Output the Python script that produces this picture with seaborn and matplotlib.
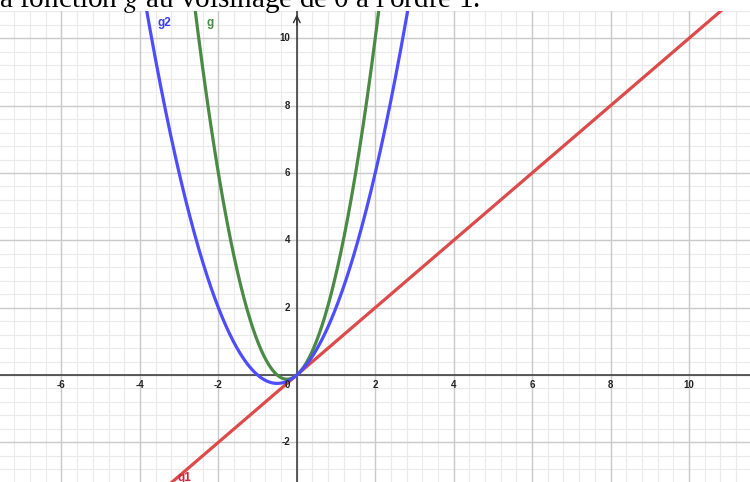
import numpy as np
import pandas as pd
import matplotlib
matplotlib.use("Agg")
import matplotlib.pyplot as plt
import seaborn as sns

# polynomial coefficients (highest degree first)
g_coeffs = [2.0, 1.0, 0.0]     # green curve g
g2_coeffs = [1.0, 1.0, 0.0]    # blue curve g2
g1_coeffs = [1.0, 0.0]         # red tangent g1
curve_names = ["g", "g2", "g1"]
curve_colors = ["#4a8a44", "#4d4dff", "#dc4a4a"]
label_colors = ["#4a8a44", "#3a3aff", "#d0243a"]

x_ticks = [-6, -4, -2, 2, 4, 6, 8, 10]
y_ticks = [-2, 2, 4, 6, 8, 10]

title_text = "la fonction $g$ au voisinage de 0 à l'ordre 1."

sns.set_theme(style="white")
plt.rcParams['font.family'] = ['Liberation Sans', 'DejaVu Sans']
plt.rcParams['mathtext.fontset'] = 'stix'

W, H = 750, 482
fig = plt.figure(figsize=(7.5, 4.82), dpi=100)
top_px = 11
ax = fig.add_axes([0, 0, 1, (H - top_px) / H])

# pixel geometry of the GeoGebra view
x0_px, sx = 296.8, 39.22
y0_px, sy = 375.0, 33.67
xmin, xmax = -x0_px / sx, (W - x0_px) / sx
ymin, ymax = -(H - y0_px) / sy, (y0_px - top_px) / sy
ax.set_xlim(xmin, xmax)
ax.set_ylim(ymin, ymax)

# grid: minor every 0.4, major every 2
for v in np.arange(-8, 12.01, 0.4):
    ax.axvline(v, color="#eaeaea", lw=0.8, zorder=0)
for v in np.arange(-4, 12.01, 0.4):
    ax.axhline(v, color="#eaeaea", lw=0.8, zorder=0)
for v in np.arange(-8, 13, 2):
    ax.axvline(v, color="#cacaca", lw=1.0, zorder=0.5)
for v in np.arange(-4, 13, 2):
    ax.axhline(v, color="#cacaca", lw=1.0, zorder=0.5)

ax.axhline(0, color="#333333", lw=1.1, zorder=1)
ax.axvline(0, color="#333333", lw=1.1, zorder=1)
ax.annotate("", xy=(0, ymax - 0.02), xytext=(0, ymax - 0.5),
            arrowprops=dict(arrowstyle="->", color="#333333", lw=1.0), zorder=1)

xs = np.linspace(xmin, xmax, 1500)
frames = []
for name, coeffs in zip(curve_names, [g_coeffs, g2_coeffs, g1_coeffs]):
    frames.append(pd.DataFrame({"x": xs, "y": np.polyval(coeffs, xs), "curve": name}))
df = pd.concat(frames)
df = df[(df.y > ymin - 1) & (df.y < ymax + 1)]

# draw tangent first, then g, then g2 on top
for name in ["g1", "g", "g2"]:
    i = curve_names.index(name)
    sns.lineplot(data=df[df.curve == name], x="x", y="y", color=curve_colors[i],
                 lw=2.3, ax=ax, zorder=3, sort=False)

ax.set_xlabel("")
ax.set_ylabel("")
ax.set_xticks([])
ax.set_yticks([])
for s in ax.spines.values():
    s.set_visible(False)

for t in x_ticks:
    ax.text(t, -0.3, str(t), ha="center", va="center", fontsize=7,
            fontweight="bold", color="#222222")
for t in y_ticks:
    ax.text(-0.17, t, str(t), ha="right", va="center", fontsize=7,
            fontweight="bold", color="#222222")
ax.text(-0.17, -0.3, "0", ha="right", va="center", fontsize=7,
        fontweight="bold", color="#222222")

# curve labels
ax.text(-3.55, 10.45, "g2", color=label_colors[1], fontsize=8.5, fontweight="bold",
        ha="left", va="center")
ax.text(-2.3, 10.45, "g", color=label_colors[0], fontsize=8.5, fontweight="bold",
        ha="left", va="center")
ax.text(-3.05, -3.05, "g1", color=label_colors[2], fontsize=8.5, fontweight="bold",
        ha="left", va="center")

# heading of the page, cut by the top edge like in the screenshot
fig.text(-9 / W, 1 - 7 / H, title_text, family="Liberation Serif", fontsize=21,
         ha="left", va="baseline", color="black")

fig.savefig("out.png", dpi=100, facecolor="white")
